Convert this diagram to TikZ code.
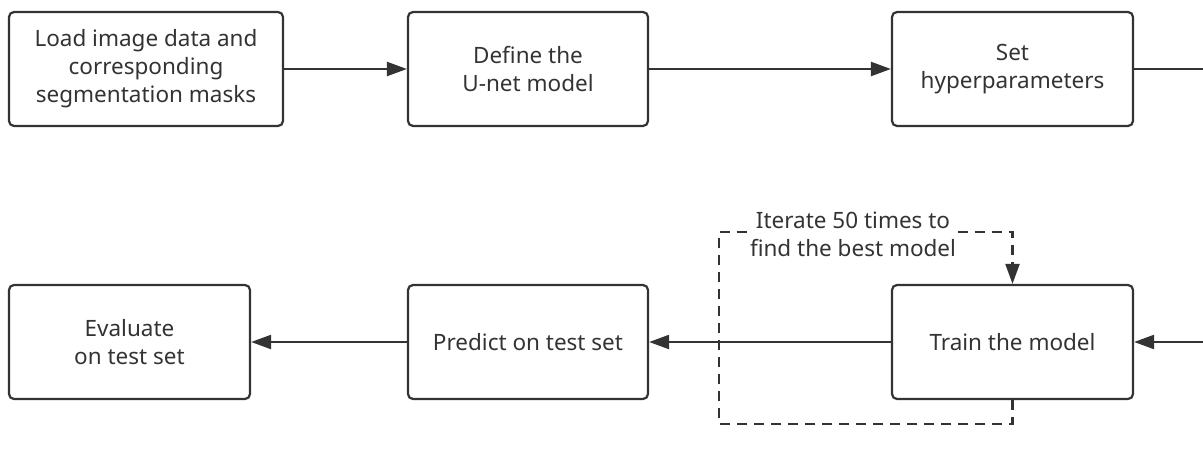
\documentclass[tikz,border=0pt]{standalone}
\usepackage{fontspec}
\setmainfont{Noto Sans}
\usetikzlibrary{arrows.meta}
\definecolor{ink}{HTML}{333333}
\tikzset{
  stepbox/.style={draw=ink, line width=2.2pt, rounded corners=5pt, minimum height=114pt, align=center, text=ink, font=\fontsize{22.5}{28}\selectfont, inner sep=0pt},
  conn/.style={draw=ink, line width=2.2pt, -{Triangle[length=20pt,width=14pt]}},
  loopline/.style={draw=ink, line width=2.2pt, dash pattern=on 10pt off 7pt, -{Triangle[length=20pt,width=14pt]}},
}
\begin{document}
\begin{tikzpicture}[x=1pt,y=-1pt]
\useasboundingbox (0,0) rectangle (1203,452);
\node[stepbox, minimum width=274pt] (t1) at (146,69) {Load image data and\\corresponding\\segmentation masks};
\node[stepbox, minimum width=240pt] (t2) at (528,69) {Define the\\U-net model};
\node[stepbox, minimum width=241pt] (t3) at (1012.5,69) {Set\\hyperparameters};
\node[stepbox, minimum width=241pt] (t4) at (129.5,342) {Evaluate\\on test set};
\node[stepbox, minimum width=240pt] (t5) at (528,342) {Predict on test set};
\node[stepbox, minimum width=241pt] (t6) at (1012.5,342) {Train the model};
\coordinate (r1) at (1203,69);
\coordinate (r2) at (1203,342);
\coordinate (lb) at (719,424);
\coordinate (lt) at (719,232);
\draw[conn] (t1) -- (t2);
\draw[conn] (t2) -- (t3);
\draw[draw=ink, line width=2.2pt] (t3) -- (r1);
\draw[conn] (r2) -- (t6);
\draw[conn] (t6) -- (t5);
\draw[conn] (t5) -- (t4);
\draw[loopline] (t6.south) |- (lb) -- (lt) -| (t6.north);
\node[fill=white, text=ink, align=center, font=\fontsize{22.5}{28}\selectfont, inner sep=1pt] (lbl) at (853,234) {Iterate 50 times to\\find the best model};
\end{tikzpicture}
\end{document}
